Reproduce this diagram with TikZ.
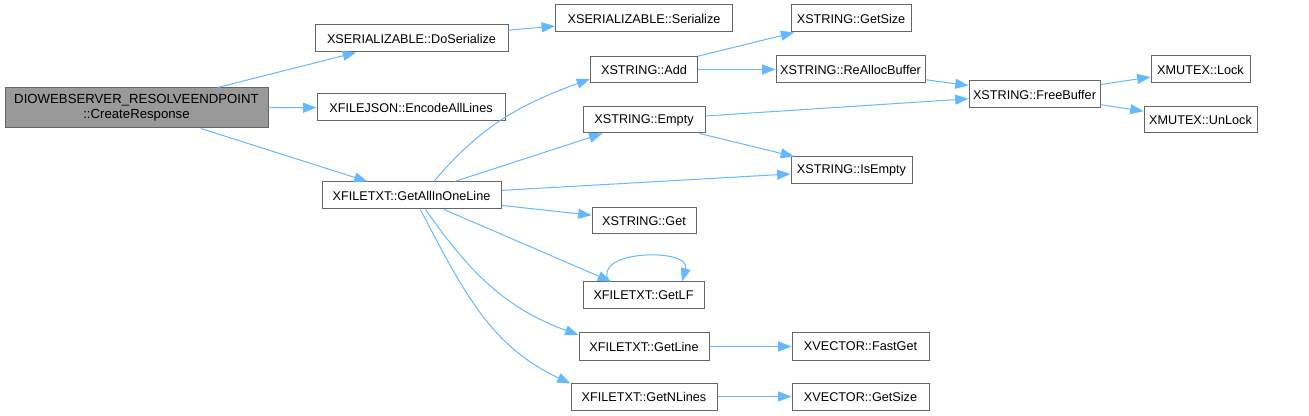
\documentclass[tikz,border=0pt]{standalone}
\usepackage{fontspec}
\setmainfont{Liberation Sans}
\usetikzlibrary{arrows.meta}
\definecolor{CallBlue}{HTML}{63B8FF}
\definecolor{BoxGray}{HTML}{666666}
\definecolor{RootGray}{HTML}{999999}

\begin{document}
\begin{tikzpicture}[x=0.75pt, y=0.75pt,
  fnbox/.style={draw=BoxGray, fill=white, line width=0.75pt, inner sep=0pt,
    minimum height=20.25pt, font=\fontsize{9.5}{11.25}\selectfont, align=center},
  call/.style={CallBlue, line width=0.75pt, -{Triangle[length=10pt, width=7.5pt]}}]
\useasboundingbox (0,0) rectangle (1309,-416);

% Caller
\node[fnbox, fill=RootGray, minimum width=197.25pt, minimum height=30pt,
  font=\fontsize{9.9}{11.25}\selectfont] (root) at (136.5,-108)
  {DIOWEBSERVER\_RESOLVEENDPOINT\\::CreateResponse};

% Second column
\node[fnbox, minimum width=144.75pt] (dos) at (411.5,-38.5) {XSERIALIZABLE::DoSerialize};
\node[fnbox, minimum width=141pt] (enc) at (411,-107.5) {XFILEJSON::EncodeAllLines};
\node[fnbox, minimum width=134.25pt] (gaiol) at (411.5,-195.5) {XFILETXT::GetAllInOneLine};

% Third column
\node[fnbox, minimum width=132.75pt] (ser) at (644,-18.5) {XSERIALIZABLE::Serialize};
\node[fnbox, minimum width=80.25pt, minimum height=19.5pt] (add) at (644,-69.5) {XSTRING::Add};
\node[fnbox, minimum width=91.5pt, minimum height=19.5pt] (empty) at (644,-120) {XSTRING::Empty};
\node[fnbox, minimum width=78pt, minimum height=19.5pt] (get) at (644,-221) {XSTRING::Get};
\node[fnbox, minimum width=90.75pt] (getlf) at (643.5,-295.5) {XFILETXT::GetLF};
\node[fnbox, minimum width=97.5pt] (getline) at (644,-346.5) {XFILETXT::GetLine};
\node[fnbox, minimum width=109.5pt] (getnl) at (644,-396.5) {XFILETXT::GetNLines};

% Fourth column
\node[fnbox, minimum width=90pt] (gsize) at (851,-18.5) {XSTRING::GetSize};
\node[fnbox, minimum width=111.75pt] (realloc) at (850.5,-69.5) {XSTRING::ReAllocBuffer};
\node[fnbox, minimum width=90.75pt] (isempty) at (851.5,-170.5) {XSTRING::IsEmpty};
\node[fnbox, minimum width=102.75pt] (fastget) at (860.5,-346.5) {XVECTOR::FastGet};
\node[fnbox, minimum width=102.75pt] (vsize) at (860.5,-396.5) {XVECTOR::GetSize};

% Last columns
\node[fnbox, minimum width=98.25pt] (free) at (1034.5,-94.5) {XSTRING::FreeBuffer};
\node[fnbox, minimum width=74.25pt] (lock) at (1200.5,-69.5) {XMUTEX::Lock};
\node[fnbox, minimum width=84.75pt, minimum height=19.5pt] (unlock) at (1200.5,-120) {XMUTEX::UnLock};

% Calls
\draw[call] (root) -- (dos);
\draw[call] (root) -- (enc);
\draw[call] (root) -- (gaiol);
\draw[call] (dos) -- (ser);
\draw[call] (gaiol.32) to[out=50, in=200] (add.190);
\draw[call] (gaiol) -- (empty);
\draw[call] (gaiol) -- (isempty);
\draw[call] (gaiol) -- (get);
\draw[call] (gaiol) -- (getlf);
\draw[call] (getlf.158) .. controls +(-18,32) and +(10,34) .. (getlf.20);
\draw[call] (gaiol.-45) to[out=-55, in=160] (getline.170);
\draw[call] (gaiol.-58) to[out=-62, in=155] (getnl.170);
\draw[call] (add) -- (gsize);
\draw[call] (add) -- (realloc);
\draw[call] (realloc) -- (free);
\draw[call] (empty) -- (free);
\draw[call] (empty) -- (isempty);
\draw[call] (free) -- (lock);
\draw[call] (free) -- (unlock);
\draw[call] (getline) -- (fastget);
\draw[call] (getnl) -- (vsize);

\end{tikzpicture}
\end{document}
